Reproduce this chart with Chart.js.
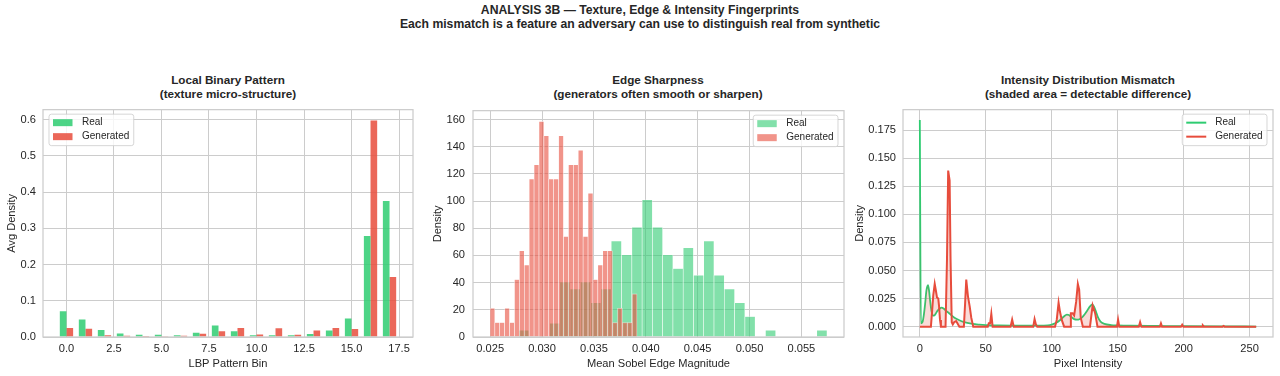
<!DOCTYPE html>
<html>
<head>
<meta charset="utf-8">
<script src="https://cdn.jsdelivr.net/npm/chart.js@4.4.1/dist/chart.umd.min.js"></script>
<style>
  html, body { margin: 0; padding: 0; background: #fff; }
  #fig { position: relative; width: 1280px; height: 376px; overflow: hidden;
         font-family: "Liberation Sans", Arial, sans-serif; color: #262626; }
  .sup { position: absolute; left: 0; width: 1280px; top: 4px; text-align: center;
         font-weight: bold; font-size: 12.2px; line-height: 13.5px; }
  .ttl { position: absolute; width: 400px; top: 73px; text-align: center;
         font-weight: bold; font-size: 11.7px; line-height: 13.5px; }
  canvas { position: absolute; top: 96px; }
</style>
</head>
<body>
<div id="fig">
  <div class="sup">ANALYSIS 3B — Texture, Edge &amp; Intensity Fingerprints<br>Each mismatch is a feature an adversary can use to distinguish real from synthetic</div>
  <div class="ttl" style="left:28px">Local Binary Pattern<br>(texture micro-structure)</div>
  <div class="ttl" style="left:458px">Edge Sharpness<br>(generators often smooth or sharpen)</div>
  <div class="ttl" style="left:888px">Intensity Distribution Mismatch<br>(shaded area = detectable difference)</div>
  <canvas id="c1" width="420" height="280" style="left:0px"></canvas>
  <canvas id="c2" width="430" height="280" style="left:420px"></canvas>
  <canvas id="c3" width="430" height="280" style="left:850px"></canvas>
</div>
<script>
/* ---- data ---- */

// panel 1: LBP histogram (avg density per bin)
var lbpBins = [0, 1, 2, 3, 4, 5, 6, 7, 8, 9, 10, 11, 12, 13, 14, 15, 16, 17];
var lbpReal = [0.071, 0.048, 0.019, 0.010, 0.006, 0.006, 0.005, 0.012, 0.032, 0.016,
               0.005, 0.0045, 0.005, 0.008, 0.018, 0.051, 0.279, 0.376];
var lbpGen  = [0.025, 0.023, 0.0045, 0.0035, 0.0003, 0.001, 0.0035, 0.009, 0.016, 0.025,
               0.007, 0.024, 0.006, 0.018, 0.025, 0.022, 0.598, 0.166];
var lbpXTicks = [0, 2.5, 5, 7.5, 10, 12.5, 15, 17.5];
var lbpYTicks = [0, 0.1, 0.2, 0.3, 0.4, 0.5, 0.6];

// panel 2: mean sobel edge magnitude histograms (bin centres + density)
var edgeRealBins = [0.02825, 0.02924, 0.03023, 0.03122, 0.03221, 0.03320, 0.03419, 0.03518, 0.03617, 0.03716,
                    0.03816, 0.03915, 0.04014, 0.04113, 0.04212, 0.04311, 0.04410, 0.04509, 0.04608, 0.04707,
                    0.04807, 0.04906, 0.05005, 0.05104, 0.05203, 0.05302, 0.05401, 0.05500, 0.05599, 0.05698];
var edgeReal = [5.0, 0, 0, 10.1, 40.4, 35.3, 40.4, 25.2, 35.3, 70.6,
                60.5, 80.7, 100.9, 80.7, 60.5, 50.4, 65.6, 45.4, 70.6, 45.4,
                35.3, 25.2, 15.1, 0, 5.0, 0, 0, 0, 0, 5.0];
var edgeGenBins = [0.02521, 0.02568, 0.02615, 0.02663, 0.02710, 0.02757, 0.02805, 0.02852, 0.02899, 0.02946,
                   0.02994, 0.03041, 0.03088, 0.03136, 0.03183, 0.03230, 0.03278, 0.03325, 0.03372, 0.03419,
                   0.03467, 0.03514, 0.03561, 0.03609, 0.03656, 0.03703, 0.03751, 0.03798, 0.03845, 0.03892];
var edgeGen = [21.1, 10.6, 10.6, 21.1, 10.6, 42.3, 63.4, 52.9, 116.3, 126.8,
               158.6, 148.0, 116.3, 116.3, 148.0, 74.0, 126.8, 126.8, 137.4, 74.0,
               105.7, 42.3, 52.9, 63.4, 63.4, 10.6, 21.1, 10.6, 10.6, 31.7];
var edgeXTicks = [0.025, 0.030, 0.035, 0.040, 0.045, 0.050, 0.055];
var edgeYTicks = [0, 20, 40, 60, 80, 100, 120, 140, 160];

// panel 3: pixel intensity KDE curves
var intRealX = [0, 0.8, 2, 3, 4, 5, 6.2, 7, 8, 9, 10, 11, 12, 13, 14, 15.5, 16.5, 18, 20, 22,
                24, 26, 28, 30, 33, 36, 40, 45, 50, 60, 70, 80, 90, 97, 100, 103, 106, 109, 111.5, 113,
                115, 117, 119, 121, 123, 125, 127, 129, 130.5, 132, 133.5, 135, 137, 140, 145, 150, 160, 180, 200, 230,
                255];
var intRealY = [0.184, 0.003, 0.004, 0.010, 0.020, 0.032, 0.037, 0.032, 0.021, 0.013, 0.0098, 0.0100, 0.0115, 0.0135, 0.015, 0.0165, 0.017, 0.0162, 0.0140, 0.0122,
                0.0100, 0.0082, 0.0068, 0.0057, 0.0043, 0.0033, 0.0024, 0.0018, 0.0014, 0.0011, 0.0010, 0.0010, 0.0010, 0.0012, 0.0018, 0.0032, 0.0055, 0.0088, 0.0108, 0.0104,
                0.0085, 0.0067, 0.0062, 0.0066, 0.0082, 0.0110, 0.0145, 0.0180, 0.0195, 0.0180, 0.0135, 0.0085, 0.0045, 0.0025, 0.0014, 0.0011, 0.0008, 0.0006, 0.0004, 0.0002,
                0.0001];
var intGenX = [0, 8.4, 9.2, 10.2, 11.3, 12.2, 13, 14, 14.6, 15.3, 16, 19.5, 20.6, 21.5, 22.6, 23.3, 24.2, 25, 26, 27.5,
               28.5, 30, 33.4, 34.3, 35.2, 36.5, 37.8, 39, 40.5, 51.5, 52.3, 53.3, 54.2, 55.2, 68.8, 70, 71.2, 86, 87, 88,
               89, 102.5, 103.8, 105.2, 106.3, 107.6, 109.4, 114, 114.5, 115.8, 117, 118.5, 119.8, 120.8, 122, 123.6, 129, 131, 132.9, 134.7,
               149.5, 150.3, 151.2, 166, 167, 168, 182, 182.8, 183.6, 198, 198.9, 199.8, 214, 214.6, 215.4, 229.5, 230.3, 231, 255];
var intGenY = [0, 0, 0.012, 0.028, 0.038, 0.032, 0.026, 0.025, 0.018, 0.006, 0, 0, 0.06, 0.139, 0.130, 0.06, 0.004, 0.002, 0.004, 0.005,
               0.003, 0, 0, 0.020, 0.042, 0.027, 0.018, 0.008, 0, 0, 0.003, 0.003, 0.0114, 0, 0, 0.0063, 0, 0, 0.0068, 0.002,
               0, 0, 0.006, 0.0214, 0.013, 0.006, 0, 0, 0.012, 0.012, 0.010, 0.022, 0.038, 0.033, 0.008, 0, 0, 0.019, 0.012, 0,
               0, 0.0063, 0, 0, 0.004, 0, 0, 0.0029, 0, 0, 0.0017, 0, 0, 0.0011, 0, 0, 0.0006, 0, 0];
var intXTicks = [0, 50, 100, 150, 200, 250];
var intYTicks = [0, 0.025, 0.05, 0.075, 0.1, 0.125, 0.15, 0.175];

/* ---- styling ---- */
var FONT = '"Liberation Sans", Arial, sans-serif';
var TXT = '#262626';
var GRID = '#cccccc';

function pts(xs, ys) {
    return xs.map(function (x, i) { return {x: x, y: ys[i]}; });
}

function axis(min, max, ticks, digits, title, titlePad, size, tickPad) {
    return {
        type: 'linear',
        min: min,
        max: max,
        offset: false,
        afterBuildTicks: function (s) {
            s.ticks = ticks.map(function (v) { return {value: v}; });
        },
        afterFit: function (s) {
            if (s.isHorizontal()) { s.height = size; } else { s.width = size; }
        },
        grid: {color: GRID, lineWidth: 1, drawTicks: false, offset: false},
        border: {display: false},
        ticks: {
            color: TXT, font: {family: FONT, size: 11.1}, padding: tickPad,
            maxRotation: 0, autoSkip: false,
            callback: function (v) { return v.toFixed(digits); }
        },
        title: {display: true, text: title, color: TXT, font: {family: FONT, size: 11.1}, padding: titlePad}
    };
}

/* frame (all four spines) + matplotlib style legend inside the axes */
var frameAndLegend = {
    id: 'frameAndLegend',
    afterDatasetsDraw: function (chart, args, opts) {
        var ctx = chart.ctx;
        var a = chart.chartArea;
        ctx.save();
        ctx.strokeStyle = GRID;
        ctx.lineWidth = 1.25;
        ctx.strokeRect(a.left, a.top, a.right - a.left, a.bottom - a.top);

        ctx.font = '10px ' + FONT;
        var sets = chart.data.datasets;
        var textW = 0;
        sets.forEach(function (d) { textW = Math.max(textW, ctx.measureText(d.label).width); });
        var w = 4 + 19.5 + 9.5 + textW + 4.5;
        var h = 31.5;
        var x0 = opts.side === 'left' ? a.left + 6 : a.right - 6 - w;
        var y0 = a.top + 4.5;
        ctx.beginPath();
        ctx.roundRect(x0, y0, w, h, 2.5);
        ctx.fillStyle = 'rgba(255,255,255,0.8)';
        ctx.fill();
        ctx.strokeStyle = 'rgba(204,204,204,0.8)';
        ctx.lineWidth = 1;
        ctx.stroke();
        sets.forEach(function (d, i) {
            var cy = y0 + 8.5 + i * 14;
            if (opts.kind === 'line') {
                ctx.strokeStyle = d.borderColor;
                ctx.lineWidth = 2;
                ctx.beginPath();
                ctx.moveTo(x0 + 4, cy);
                ctx.lineTo(x0 + 24, cy);
                ctx.stroke();
            } else {
                ctx.fillStyle = d.backgroundColor;
                ctx.fillRect(x0 + 4, cy - 3.5, 19.5, 7);
            }
            ctx.fillStyle = TXT;
            ctx.textBaseline = 'middle';
            ctx.textAlign = 'left';
            ctx.fillText(d.label, x0 + 33, cy);
        });
        ctx.restore();
    }
};

var base = {
    responsive: false,
    animation: false,
    devicePixelRatio: 1,
    plugins: {legend: {display: false}, tooltip: {enabled: false}}
};

function opts(extra) {
    return Object.assign({}, base, extra);
}

/* ---- panel 1 ---- */
new Chart(document.getElementById('c1'), {
    type: 'bar',
    data: {
        datasets: [
            {label: 'Real', data: pts(lbpBins, lbpReal), backgroundColor: 'rgba(46,204,113,0.85)',
             categoryPercentage: 0.7, barPercentage: 1.0},
            {label: 'Generated', data: pts(lbpBins, lbpGen), backgroundColor: 'rgba(231,76,60,0.85)',
             categoryPercentage: 0.7, barPercentage: 1.0}
        ]
    },
    options: opts({
        layout: {padding: {left: 0, top: 6, right: 7, bottom: 0}},
        scales: {
            x: axis(-1.235, 18.235, lbpXTicks, 1, 'LBP Pattern Bin', {top: 0, bottom: 5.3}, 39, 5.3),
            y: axis(0, 0.628, lbpYTicks, 1, 'Avg Density', {top: 5.3, bottom: 0}, 43, 7)
        },
        plugins: Object.assign({}, base.plugins, {frameAndLegend: {side: 'left', kind: 'bar'}})
    }),
    plugins: [frameAndLegend]
});

/* ---- panel 2 ---- */
// both histograms share one "stack" slot on x so each bar spans its own bin width (flex)
var histStyle = {stack: 'hist', barThickness: 'flex', categoryPercentage: 1, barPercentage: 1,
                 borderColor: 'rgba(255,255,255,0.6)', borderWidth: 0.6};
var edgeX = axis(0.02334, 0.05911, edgeXTicks, 3, 'Mean Sobel Edge Magnitude', {top: 0, bottom: 5.3}, 39, 5.3);
edgeX.stacked = true;
var edgeY = axis(0, 166.5, edgeYTicks, 0, 'Density', {top: 11.3, bottom: 0}, 53, 8);
edgeY.stacked = false;
new Chart(document.getElementById('c2'), {
    type: 'bar',
    data: {
        datasets: [
            Object.assign({label: 'Real', data: pts(edgeRealBins, edgeReal),
                           backgroundColor: 'rgba(46,204,113,0.6)', order: 1}, histStyle),
            Object.assign({label: 'Generated', data: pts(edgeGenBins, edgeGen),
                           backgroundColor: 'rgba(231,76,60,0.6)', order: 0}, histStyle)
        ]
    },
    options: opts({
        layout: {padding: {left: 0, top: 6, right: 6, bottom: 0}},
        scales: {x: edgeX, y: edgeY},
        plugins: Object.assign({}, base.plugins, {frameAndLegend: {side: 'right', kind: 'bar'}})
    }),
    plugins: [frameAndLegend]
});

/* ---- panel 3 ---- */
new Chart(document.getElementById('c3'), {
    type: 'line',
    data: {
        datasets: [
            {label: 'Real', data: pts(intRealX, intRealY), borderColor: '#2ecc71', borderWidth: 1.8,
             pointRadius: 0, cubicInterpolationMode: 'monotone', fill: false, order: 1},
            {label: 'Generated', data: pts(intGenX, intGenY), borderColor: '#e74c3c', borderWidth: 2,
             pointRadius: 0, tension: 0, fill: '-1', backgroundColor: 'rgba(231,76,60,0.2)', order: 0}
        ]
    },
    options: opts({
        layout: {padding: {left: 0, top: 6, right: 7, bottom: 0}},
        scales: {
            x: axis(-12.75, 267.75, intXTicks, 0, 'Pixel Intensity', {top: 0, bottom: 5.3}, 39, 5.3),
            y: axis(-0.0092, 0.1932, intYTicks, 3, 'Density', {top: 3.3, bottom: 0}, 53, 7)
        },
        plugins: Object.assign({}, base.plugins, {frameAndLegend: {side: 'right', kind: 'line'}})
    }),
    plugins: [frameAndLegend]
});
</script>
</body>
</html>
